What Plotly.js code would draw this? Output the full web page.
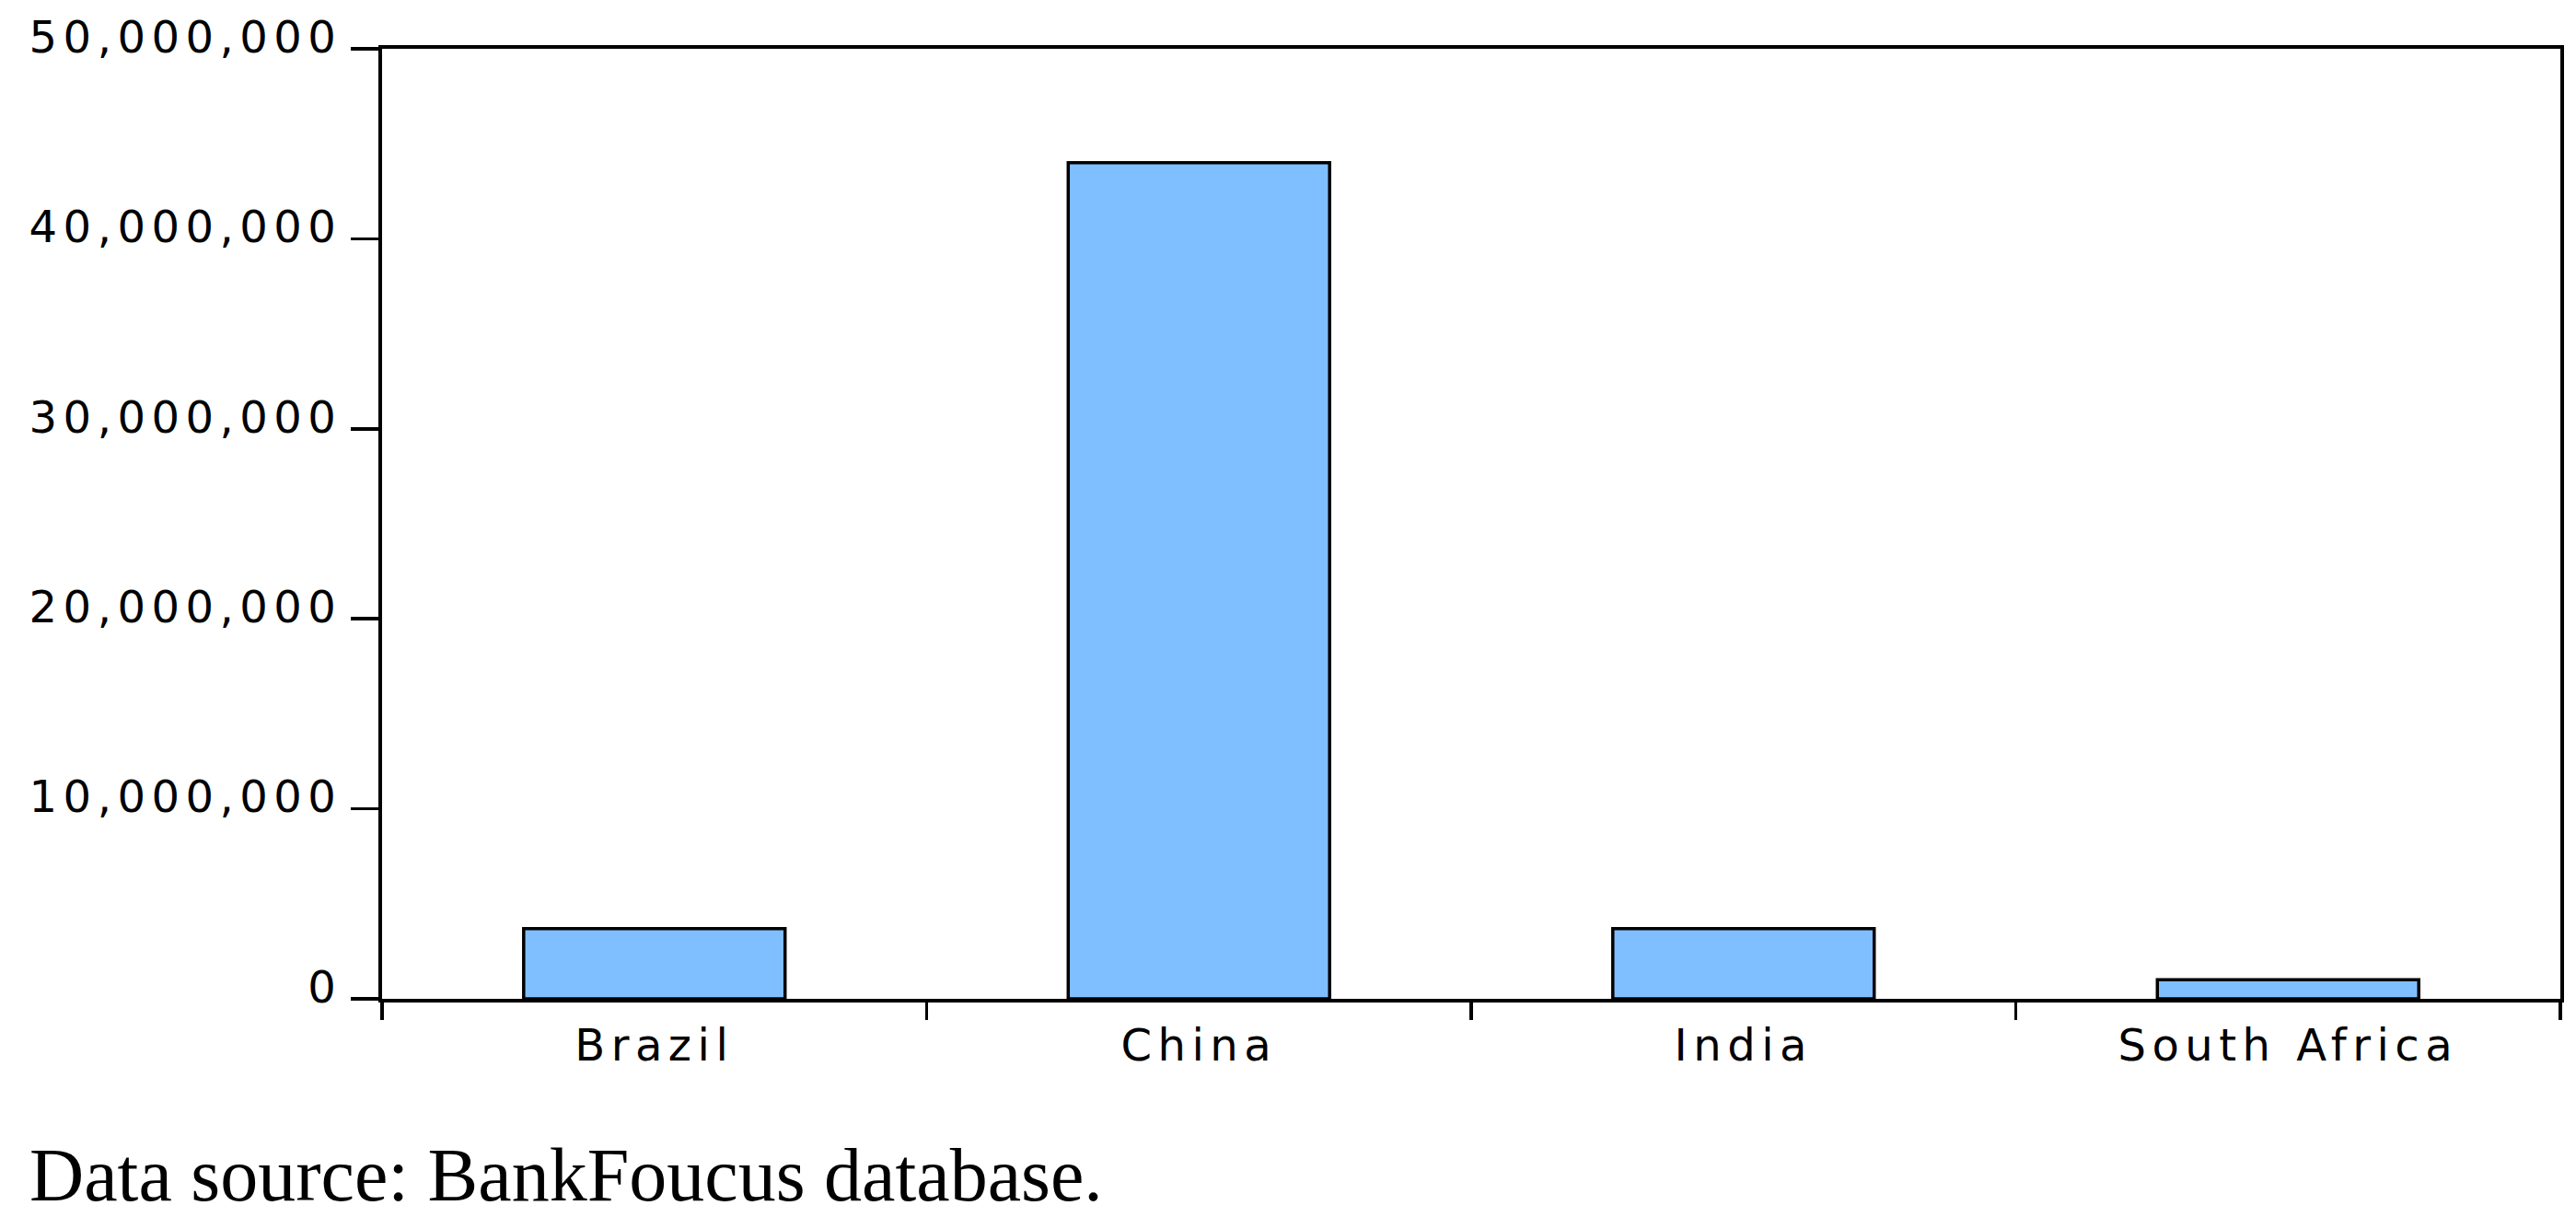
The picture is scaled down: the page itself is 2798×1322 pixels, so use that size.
<!DOCTYPE html>
<html>
<head>
<meta charset="utf-8">
<script src="https://cdn.plot.ly/plotly-3.0.1.min.js"></script>
<style>
  html, body { margin: 0; padding: 0; background: #fff; }
  #chart { width: 2798px; height: 1322px; }
  /* the original EViews export has wide, stretched tick text */
  .xtick text, .ytick text { letter-spacing: 6.5px; }
</style>
</head>
<body>
<div id="chart"></div>
<script>
// countries and their values
var countries = ["Brazil", "China", "India", "South Africa"];
var values = [3700000, 44000000, 3700000, 1000000];

// y axis ticks
var yTicks = [0, 10000000, 20000000, 30000000, 40000000, 50000000];

var caption = "Data source: BankFoucus database.";

var trace = {
    x: countries,
    y: values,
    type: 'bar',
    width: 0.48,
    marker: {
        color: '#80bfff',
        line: { color: '#000', width: 3.5 }
    },
    hoverinfo: 'x+y'
};

var layout = {
    width: 2798,
    height: 1322,
    margin: { l: 415, r: 17, t: 53, b: 237 },
    paper_bgcolor: '#fff',
    plot_bgcolor: '#fff',
    showlegend: false,
    font: { family: 'DejaVu Sans, Arial, sans-serif', size: 48, color: '#000' },
    xaxis: {
        type: 'category',
        showline: true,
        linecolor: '#000',
        linewidth: 4,
        mirror: true,
        ticks: 'outside',
        tickson: 'boundaries',
        ticklen: 19,
        tickwidth: 3.5,
        tickcolor: '#000',
        showgrid: false,
        zeroline: false,
        ticklabelstandoff: 5
    },
    yaxis: {
        range: [0, 50000000],
        tickvals: yTicks,
        tickformat: ',d',
        showline: true,
        linecolor: '#000',
        linewidth: 4,
        mirror: true,
        ticks: 'outside',
        ticklen: 30,
        tickwidth: 3.5,
        tickcolor: '#000',
        showgrid: false,
        zeroline: false,
        ticklabelshift: -13,
        ticklabelstandoff: 0
    },
    annotations: [{
        text: caption,
        xref: 'paper',
        yref: 'paper',
        x: (30 - 415) / 2366,
        y: (1085 - 1276) / 1032,
        xanchor: 'left',
        yanchor: 'middle',
        showarrow: false,
        font: { family: 'Liberation Serif, Times New Roman, serif', size: 82, color: '#000' }
    }]
};

Plotly.newPlot('chart', [trace], layout, { displayModeBar: false, staticPlot: true });
</script>
</body>
</html>
